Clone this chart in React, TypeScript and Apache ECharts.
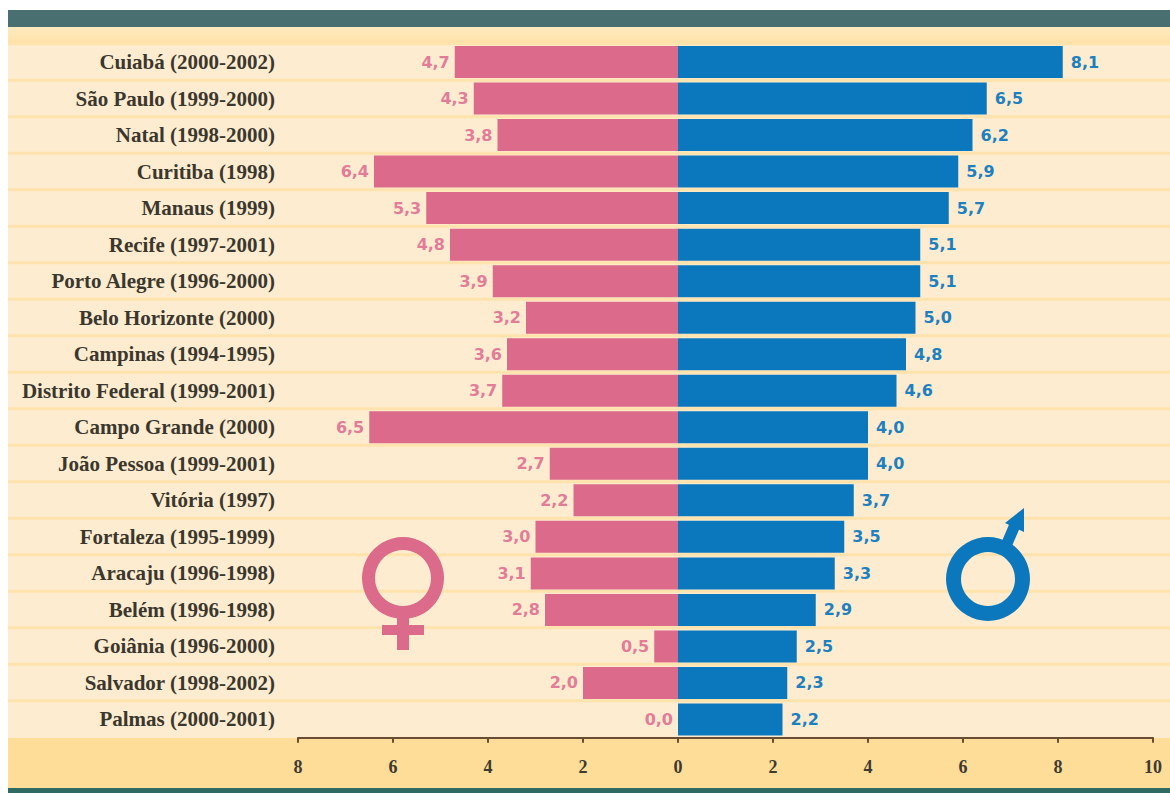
import React, { useEffect, useRef } from "react";
import * as echarts from "echarts";

const categories = [
  "Cuiabá (2000-2002)", "São Paulo (1999-2000)", "Natal (1998-2000)", "Curitiba (1998)",
  "Manaus (1999)", "Recife (1997-2001)", "Porto Alegre (1996-2000)", "Belo Horizonte (2000)",
  "Campinas (1994-1995)", "Distrito Federal (1999-2001)", "Campo Grande (2000)",
  "João Pessoa (1999-2001)", "Vitória (1997)", "Fortaleza (1995-1999)", "Aracaju (1996-1998)",
  "Belém (1996-1998)", "Goiânia (1996-2000)", "Salvador (1998-2002)", "Palmas (2000-2001)",
];
const female = [4.7, 4.3, 3.8, 6.4, 5.3, 4.8, 3.9, 3.2, 3.6, 3.7, 6.5, 2.7, 2.2, 3.0, 3.1, 2.8, 0.5, 2.0, 0.0];
const male = [8.1, 6.5, 6.2, 5.9, 5.7, 5.1, 5.1, 5.0, 4.8, 4.6, 4.0, 4.0, 3.7, 3.5, 3.3, 2.9, 2.5, 2.3, 2.2];

const PINK = "#DC6A8A";
const BLUE = "#0B78BE";
const fmt = (v: number) => Math.abs(v).toFixed(1).replace(".", ",");

const TOP = 43.75;
const STEP = 36.5;

export default function App() {
  const ref = useRef<HTMLDivElement>(null);
  useEffect(() => {
    const chart = echarts.init(ref.current!, undefined, { renderer: "svg" });
    const stripes = categories.map((_, i) => ({
      type: "rect",
      z: -10,
      shape: { x: 8, y: TOP + STEP * i - 1.5, width: 1162, height: 3 },
      style: { fill: "#FFE3AC" },
    }));
    const labelBase = { show: true, fontFamily: "'DejaVu Sans', sans-serif", fontWeight: "bold" as const, fontSize: 16 };
    chart.setOption({
      animation: false,
      backgroundColor: "#ffffff",
      grid: { left: 298, right: 17, top: TOP, height: STEP * categories.length + 0.5, containLabel: false },
      xAxis: {
        type: "value",
        min: -8,
        max: 10,
        interval: 2,
        splitLine: { show: false },
        axisLine: { show: true, onZero: false, lineStyle: { color: "#6A4D32", width: 2 } },
        axisTick: { show: true, length: 5, lineStyle: { color: "#6A4D32", width: 2 } },
        axisLabel: {
          margin: 20,
          fontFamily: "'Liberation Serif', serif",
          fontWeight: "bold",
          fontSize: 18,
          color: "#3E3A30",
          formatter: (v: number) => String(Math.abs(v)),
        },
      },
      yAxis: {
        type: "category",
        inverse: true,
        data: categories,
        axisLine: { show: false },
        axisTick: { show: false },
        splitLine: { show: false },
        axisLabel: {
          margin: 23,
          fontFamily: "'Liberation Serif', serif",
          fontWeight: "bold",
          fontSize: 21,
          color: "#3A382E",
        },
      },
      series: [
        {
          name: "Feminino",
          type: "bar",
          barWidth: 32,
          barGap: "-100%",
          data: female.map((v) => -v),
          itemStyle: { color: PINK },
          label: { ...labelBase, position: "left", distance: 5, color: "#E27C98", formatter: (p: any) => fmt(p.value) },
        },
        {
          name: "Masculino",
          type: "bar",
          barWidth: 32,
          barGap: "-100%",
          data: male,
          itemStyle: { color: BLUE },
          label: { ...labelBase, position: "right", distance: 8, color: "#1E80BE", formatter: (p: any) => fmt(p.value) },
        },
      ],
      graphic: [
        { type: "rect", z: -20, shape: { x: 8, y: 10, width: 1162, height: 17 }, style: { fill: "#4A6F71" } },
        {
          type: "rect",
          z: -20,
          shape: { x: 8, y: 27, width: 1162, height: 18 },
          style: {
            fill: new echarts.graphic.LinearGradient(0, 0, 0, 1, [
              { offset: 0, color: "#FFEBC0" },
              { offset: 1, color: "#FFE0A4" },
            ]),
          },
        },
        { type: "rect", z: -20, shape: { x: 8, y: 45, width: 1162, height: 693 }, style: { fill: "#FEECD0" } },
        { type: "rect", z: -20, shape: { x: 8, y: 738, width: 1162, height: 50 }, style: { fill: "#FEDD98" } },
        { type: "rect", z: -20, shape: { x: 8, y: 788, width: 1162, height: 5 }, style: { fill: "#2F6A63" } },
        ...stripes,
        // female symbol
        { type: "ring", z: 20, shape: { cx: 403, cy: 578, r: 41, r0: 28 }, style: { fill: PINK } },
        { type: "rect", z: 20, shape: { x: 397, y: 617, width: 12, height: 33 }, style: { fill: PINK } },
        { type: "rect", z: 20, shape: { x: 382, y: 625, width: 42, height: 10 }, style: { fill: PINK } },
        // male symbol
        { type: "ring", z: 20, shape: { cx: 988, cy: 579, r: 42, r0: 27 }, style: { fill: BLUE } },
        {
          type: "polygon",
          z: 20,
          shape: { points: [[1002, 541], [1011, 520], [1021, 525], [1012, 546]] },
          style: { fill: BLUE },
        },
        {
          type: "polygon",
          z: 20,
          shape: { points: [[1024, 508], [1005, 523], [1024, 532]] },
          style: { fill: BLUE },
        },
      ],
    });
    return () => chart.dispose();
  }, []);
  return <div ref={ref} style={{ position: "absolute", left: 0, top: 0, width: 1170, height: 793 }} />;
}
